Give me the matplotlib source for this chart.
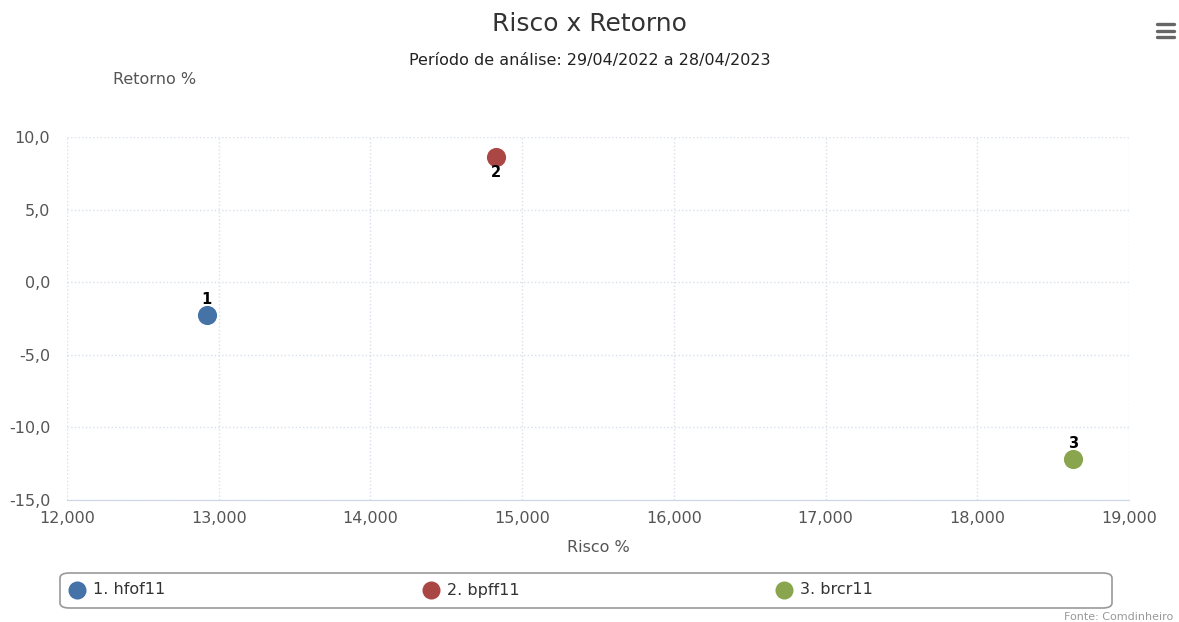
import matplotlib.pyplot as plt
from matplotlib.patches import FancyBboxPatch
from matplotlib.ticker import FuncFormatter

# --- Data ---
labels = ["1", "2", "3"]
names = ["1. hfof11", "2. bpff11", "3. brcr11"]
risco = [12.92, 14.83, 18.63]
retorno = [-2.26, 8.62, -12.18]
colors = ["#4572a7", "#aa4643", "#89a54e"]
label_above = [True, False, True]

plt.rcParams['font.family'] = ['DejaVu Sans']

fig = plt.figure(figsize=(11.79, 6.22), dpi=100)
ax = fig.add_axes([67 / 1179, 1 - 500 / 622, (1129 - 67) / 1179, (500 - 137) / 622])

for x, y, c, lab, up in zip(risco, retorno, colors, labels, label_above):
    ax.scatter(x, y, s=190, color=c, zorder=3, linewidths=0)
    ax.annotate(lab, (x, y), xytext=(0, 6 if up else -6), textcoords="offset points",
                ha="center", va="bottom" if up else "top", fontsize=10.5,
                fontweight="bold", color="black", zorder=4)

ax.set_xlim(12, 19)
ax.set_ylim(-15, 10)
ax.set_xticks(range(12, 20))
ax.set_yticks([-15, -10, -5, 0, 5, 10])
ax.xaxis.set_major_formatter(FuncFormatter(lambda v, p: f"{v:.3f}".replace(".", ",")))
ax.yaxis.set_major_formatter(FuncFormatter(lambda v, p: f"{v:.1f}".replace(".", ",")))
ax.grid(True, color="#d8e0ea", linestyle=":", linewidth=1)
for side in ["left", "top", "right"]:
    ax.spines[side].set_visible(False)
ax.spines["bottom"].set_color("#ccd6eb")
ax.tick_params(axis="both", length=0, labelsize=11.5, labelcolor="#555555")
ax.tick_params(axis="x", pad=8)
ax.tick_params(axis="y", pad=12)

ax.set_xlabel("Risco %", fontsize=11.5, color="#555555", labelpad=10)

fig.text(0.5, 1 - 24 / 622, "Risco x Retorno", ha="center", va="center", fontsize=18, color="#333333")
fig.text(0.5, 1 - 60 / 622, "Período de análise: 29/04/2022 a 28/04/2023", ha="center", va="center",
         fontsize=11.5, color="#222222")
fig.text(155 / 1179, 1 - 80 / 622, "Retorno %", ha="center", va="center", fontsize=11.5, color="#555555")
fig.text(1173 / 1179, 1 - 617 / 622, "Fonte: Comdinheiro", ha="right", va="center", fontsize=8, color="#999999")

# hamburger menu icon
for yy in [24, 30.5, 37]:
    fig.add_artist(plt.Line2D([1157 / 1179, 1174 / 1179], [1 - yy / 622] * 2, color="#666666",
                              linewidth=2.4, solid_capstyle="round"))

# legend box
box = FancyBboxPatch((60 / 1179, 1 - 608 / 622), (1112 - 60) / 1179, 35 / 622,
                     boxstyle="round,pad=0,rounding_size=0.008", transform=fig.transFigure,
                     facecolor="white", edgecolor="#999999", linewidth=1.2)
fig.add_artist(box)
for name, c, xm in zip(names, colors, [77, 431, 784]):
    fig.add_artist(plt.Line2D([xm / 1179], [1 - 590 / 622], marker="o", markersize=13,
                              color=c, markeredgewidth=0, linestyle="none"))
    fig.text((xm + 16) / 1179, 1 - 590 / 622, name, ha="left", va="center", fontsize=11.5, color="#333333")

fig.savefig("out.png", dpi=100)
